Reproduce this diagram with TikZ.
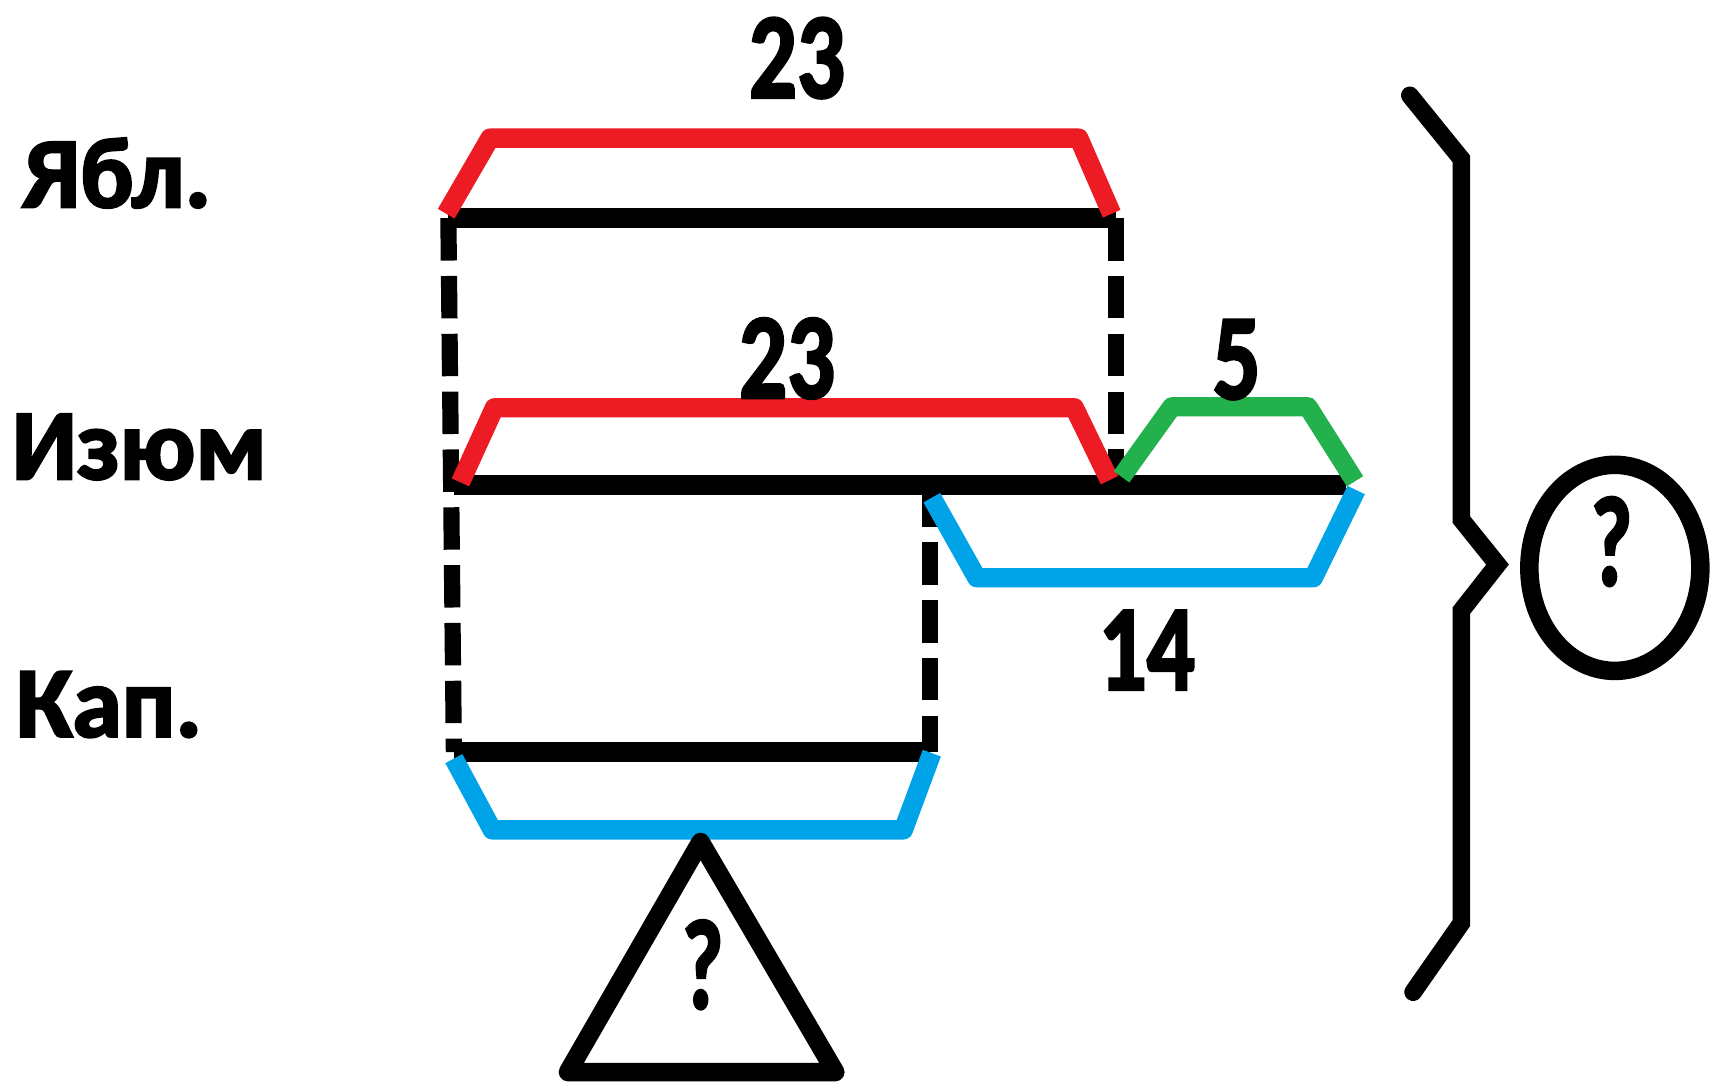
\documentclass[tikz,border=0pt]{standalone}
\usepackage{fontspec}
\setmainfont{Carlito}[BoldFeatures={FakeBold=2.5}]
\definecolor{paintred}{RGB}{237,28,36}
\definecolor{paintgreen}{RGB}{34,177,76}
\definecolor{paintblue}{RGB}{0,162,232}
\tikzset{inner sep=0pt}

\begin{document}
\begin{tikzpicture}[
            x=0.01cm, y=-0.01cm,
            bar/.style={line width=5.2pt},
            guide/.style={line width=4.2pt, dash pattern=on 11pt off 4pt},
            span/.style={line width=5pt, line join=round},
            rowlabel/.style={font=\bfseries\fontsize{26}{30}\selectfont, anchor=base west},
            amount/.style={font=\bfseries\fontsize{31.5}{36}\selectfont, xscale=0.78},
            query/.style={font=\bfseries\fontsize{33}{36}\selectfont, xscale=0.7}
            ]
            \useasboundingbox (0,0) rectangle (1568,992);
            \node[rowlabel] (apples) at (20,189) {Ябл.};
            \node[rowlabel] (raisins) at (10,437) {Изюм};
            \node[rowlabel] (dried) at (14,672) {Кап.};
            \coordinate (a1) at (409,199);
            \coordinate (a2) at (1018,199);
            \coordinate (b1) at (414,442);
            \coordinate (bm) at (1018,442);
            \coordinate (bk) at (848,442);
            \coordinate (b2) at (1228,442);
            \coordinate (c1) at (414,686);
            \coordinate (c2) at (848,686);
            \draw[guide] (a1) -- (c1);
            \draw[guide] (a2) -- (bm);
            \draw[guide] (bk) -- (c2);
            \draw[bar] (a1) -- (a2);
            \draw[bar] (b1) -- (b2);
            \draw[bar] (c1) -- (c2);
            \draw[span, paintred] (407,195) -- (447,126) -- (984,126) -- (1014,195);
            \draw[span, paintred] (420,440) -- (451,372) -- (980,372) -- (1012,438);
            \draw[span, paintgreen] (1023,435) -- (1069,371) -- (1193,371) -- (1236,439);
            \draw[span, paintblue] (850,454) -- (891,527) -- (1198,527) -- (1237,447);
            \draw[span, paintblue] (414,692) -- (449,757) -- (824,757) -- (850,687);
            \node[amount] (n23a) at (727,53) {23};
            \node[amount] (n23b) at (718,327) {23};
            \node[amount] (n5) at (1128,328) {5};
            \node[amount] (n14) at (1046,593) {14};
            \draw[line width=4.8pt, line join=round] (639,768) -- (518,978) -- (762,978) -- cycle;
            \node[query] (q1) at (641,880) {?};
            \draw[line width=4.6pt, line cap=round] (1286,87) -- (1333,145) -- (1333,474) -- (1366,515)
                -- (1333,557) -- (1333,842) -- (1289,905);
            \draw[line width=4.8pt] (1473,518) ellipse [x radius=78, y radius=94];
            \node[query] (q2) at (1470,494) {?};
        \end{tikzpicture}
\end{document}
